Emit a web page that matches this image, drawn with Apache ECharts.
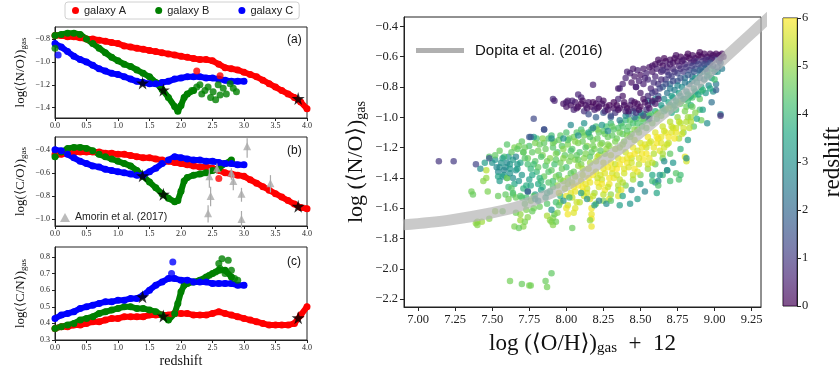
<!DOCTYPE html>
<html>
<head>
<meta charset="utf-8">
<script src="https://cdn.jsdelivr.net/npm/echarts@6/dist/echarts.min.js"></script>
<style>
html,body{margin:0;padding:0;background:#fff;}
#chart{width:840px;height:373px;}
</style>
</head>
<body>
<div id="chart"></div>
<script>
// ---------- redshift tracks of the three galaxies ----------
const zA = [0.0,0.1,0.2,0.3,0.4,0.5,0.6,0.7,0.8,0.9,1.0,1.1,1.2,1.3,1.4,1.5,1.6,1.7,1.8,1.9,2.0,2.1,2.2,2.3,2.4,2.5,2.6,2.7,2.8,2.9,3.0,3.1,3.2,3.3,3.4,3.5,3.6,3.7,3.8,3.9,4.0];
const noA = [-0.77,-0.77,-0.78,-0.78,-0.79,-0.80,-0.80,-0.81,-0.82,-0.83,-0.84,-0.86,-0.87,-0.88,-0.89,-0.90,-0.91,-0.92,-0.93,-0.94,-0.95,-0.96,-0.97,-0.98,-0.98,-0.99,-1.02,-1.05,-1.06,-1.07,-1.09,-1.11,-1.13,-1.16,-1.19,-1.22,-1.25,-1.28,-1.31,-1.35,-1.41];
const coA = [-0.44,-0.44,-0.43,-0.42,-0.42,-0.42,-0.42,-0.42,-0.43,-0.43,-0.44,-0.44,-0.45,-0.46,-0.47,-0.47,-0.48,-0.49,-0.50,-0.51,-0.52,-0.53,-0.54,-0.55,-0.55,-0.56,-0.58,-0.60,-0.61,-0.62,-0.63,-0.66,-0.69,-0.72,-0.75,-0.78,-0.81,-0.84,-0.87,-0.90,-0.91];
const cnA = [0.37,0.38,0.38,0.39,0.39,0.40,0.41,0.41,0.42,0.43,0.43,0.44,0.44,0.44,0.44,0.45,0.45,0.45,0.45,0.46,0.46,0.46,0.45,0.45,0.45,0.46,0.47,0.46,0.45,0.44,0.43,0.42,0.41,0.40,0.39,0.39,0.39,0.39,0.40,0.45,0.50];

const zB = [0.0,0.1,0.2,0.3,0.4,0.5,0.6,0.7,0.8,0.9,1.0,1.1,1.2,1.3,1.4,1.5,1.6,1.7,1.8,1.9,1.95,2.0,2.05,2.1,2.2,2.3,2.4,2.5,2.6,2.7,2.8];
const noB = [-0.77,-0.76,-0.75,-0.75,-0.76,-0.80,-0.84,-0.88,-0.92,-0.96,-0.99,-1.02,-1.04,-1.07,-1.10,-1.13,-1.18,-1.24,-1.31,-1.39,-1.43,-1.38,-1.31,-1.28,-1.25,null,null,null,null,null,null];
const coB = [-0.46,-0.42,-0.39,-0.38,-0.38,-0.39,-0.41,-0.44,-0.46,-0.48,-0.50,-0.52,-0.54,-0.58,-0.63,-0.68,-0.73,-0.78,-0.82,-0.85,-0.84,-0.76,-0.67,-0.64,-0.62,-0.61,-0.60,-0.58,-0.56,-0.52,-0.49];
const cnB = [0.37,0.38,0.39,0.40,0.42,0.43,0.44,0.46,0.47,0.48,0.49,0.50,0.50,0.49,0.49,0.48,0.47,0.45,0.42,0.46,0.52,0.59,0.63,0.64,0.65,0.66,0.68,0.70,0.72,0.72,0.68];

const zC = [0.0,0.1,0.2,0.3,0.4,0.5,0.6,0.7,0.8,0.9,1.0,1.1,1.2,1.3,1.4,1.5,1.6,1.7,1.8,1.9,2.0,2.1,2.2,2.3,2.4,2.5,2.6,2.7,2.8,2.9,3.0];
const noC = [-0.84,-0.87,-0.91,-0.95,-0.98,-1.00,-1.03,-1.06,-1.08,-1.10,-1.11,-1.13,-1.15,-1.17,-1.18,-1.19,-1.19,-1.18,-1.17,-1.15,-1.14,-1.13,-1.13,-1.13,-1.14,-1.14,-1.15,-1.16,-1.17,-1.17,-1.17];
const coC = [-0.40,-0.41,-0.44,-0.47,-0.50,-0.52,-0.54,-0.55,-0.57,-0.58,-0.59,-0.60,-0.61,-0.62,-0.62,-0.59,-0.56,-0.52,-0.49,-0.46,-0.47,-0.48,-0.49,-0.49,-0.50,-0.50,-0.51,-0.52,-0.52,-0.53,-0.53];
const cnC = [0.43,0.45,0.46,0.47,0.49,0.50,0.51,0.52,0.53,0.53,0.54,0.54,0.55,0.55,0.57,0.60,0.63,0.65,0.67,0.67,0.66,0.66,0.65,0.65,0.65,0.64,0.64,0.64,0.64,0.63,0.63];

// scattered snapshots off the main tracks: [redshift, value]
const looseA_no = [[2.25,-1.08],[2.62,-1.12]];
const looseA_co = [[2.6,-0.65]];
const looseB_no = [[0.0,-0.88],[2.17,-1.25],[2.25,-1.22],[2.30,-1.20],[2.33,-1.28],[2.38,-1.25],[2.43,-1.22],[2.51,-1.26],[2.59,-1.20],[2.62,-1.29],[2.67,-1.23],[2.72,-1.28],[2.78,-1.19],[2.83,-1.23],[2.88,-1.26],[2.47,-1.31],[2.55,-1.33]];
const looseB_cn = [[2.55,0.71],[2.60,0.76],[2.65,0.79],[2.62,0.73],[2.75,0.78],[2.70,0.70],[2.85,0.67],[2.90,0.66],[2.80,0.72],[2.45,0.69]];
const looseC_no = [[0.05,-0.94]];
const looseC_cn = [[1.87,0.77],[1.85,0.70]];

// marked snapshots (stars): galaxy A, B, C
const starZ  = [3.86, 1.72, 1.39];
const starNO = [-1.32, -1.245, -1.185];
const starCO = [-0.89, -0.785, -0.625];
const starCN = [0.434, 0.445, 0.56];

// Amorin et al. (2017) C/O measurements: redshift, value, lower, upper
const amorinZ  = [2.43, 2.47, 2.45, 2.57, 2.80, 2.83, 2.96, 2.96, 3.05, 3.42];
const amorinCO = [-0.95, -0.80, -0.63, -0.56, -0.60, -0.67, -0.78, -1.00, -0.37, -0.69];
const amorinLo = [-1.03, -0.89, -0.73, -0.61, -0.66, -0.75, -0.85, -1.08, -0.47, -0.77];
const amorinHi = [-0.88, -0.72, -0.56, -0.52, -0.56, -0.62, -0.73, -0.93, -0.30, -0.62];

// Dopita et al. (2016) relation
const dopOH = [6.9, 7.2, 7.5, 7.7, 7.9, 8.0, 8.1, 8.2, 8.3, 8.4, 8.5, 8.6, 8.7, 8.8, 8.9, 9.0, 9.1, 9.2, 9.3, 9.4];
const dopNO = [-1.71, -1.68, -1.63, -1.58, -1.50, -1.45, -1.39, -1.32, -1.25, -1.18, -1.10, -1.02, -0.94, -0.85, -0.76, -0.67, -0.58, -0.49, -0.40, -0.31];

// ---------- gas particles: [log(O/H)+12, log(N/O), redshift] ----------
const cloudGreen = [
[7.55,-1.22,4.6],[7.56,-1.30,3.0],[7.54,-1.36,2.8],[7.55,-1.42,3.2],
[7.60,-1.18,4.4],[7.61,-1.26,3.1],[7.59,-1.33,2.9],[7.60,-1.40,3.4],[7.61,-1.46,4.0],
[7.65,-1.20,4.8],[7.64,-1.28,3.3],[7.66,-1.35,3.0],[7.65,-1.44,3.6],[7.64,-1.50,4.2],
[7.70,-1.16,4.5],[7.71,-1.23,4.2],[7.69,-1.30,3.5],[7.70,-1.38,3.2],[7.71,-1.47,3.8],[7.70,-1.53,4.4],
[7.75,-1.19,4.3],[7.74,-1.27,4.6],[7.76,-1.34,3.9],[7.75,-1.41,3.4],[7.74,-1.49,3.1],[7.76,-1.55,4.7],
[7.80,-1.14,4.2],[7.81,-1.22,4.7],[7.79,-1.29,4.4],[7.80,-1.36,4.0],[7.81,-1.44,3.6],[7.79,-1.51,3.3],
[7.85,-1.17,4.5],[7.84,-1.25,4.8],[7.86,-1.32,4.3],[7.85,-1.39,4.6],[7.84,-1.46,3.9],[7.86,-1.53,3.5],
[7.90,-1.12,4.1],[7.91,-1.20,4.4],[7.89,-1.27,4.9],[7.90,-1.35,4.5],[7.91,-1.42,4.2],[7.89,-1.49,3.7],
[7.95,-1.15,4.6],[7.94,-1.23,4.3],[7.96,-1.30,4.7],[7.95,-1.38,4.4],[7.94,-1.45,5.0],[7.96,-1.52,3.8],
[8.00,-1.10,4.3],[8.01,-1.18,4.8],[7.99,-1.25,4.5],[8.00,-1.33,4.2],[8.01,-1.40,4.9],[7.99,-1.47,5.3],
[8.05,-1.13,4.7],[8.04,-1.21,4.4],[8.06,-1.28,4.9],[8.05,-1.36,4.6],[8.04,-1.43,5.2],
[8.10,-1.08,4.2],[8.11,-1.16,4.6],[8.09,-1.23,4.3],[8.10,-1.31,4.8],[8.11,-1.38,5.4],
[8.15,-1.11,4.5],[8.14,-1.19,4.9],[8.16,-1.26,4.4],[8.15,-1.34,5.5],
[8.20,-1.06,4.1],[8.21,-1.14,4.6],[8.19,-1.21,4.8],[8.20,-1.29,5.3],
[8.25,-1.09,4.4],[8.24,-1.17,4.7],[8.26,-1.24,5.0],[8.25,-1.30,5.6],
[8.30,-1.04,4.0],[8.31,-1.12,4.5],[8.29,-1.19,4.9],[8.30,-1.25,5.4],
[8.35,-1.07,4.3],[8.34,-1.14,4.6],[8.36,-1.20,5.1],
[8.40,-1.02,3.9],[8.41,-1.09,4.4],[8.39,-1.16,4.8],
[8.45,-1.04,4.2],[8.44,-1.11,4.7],[8.46,-1.15,5.2],
[8.50,-0.99,3.8],[8.51,-1.06,4.5],[8.49,-1.10,4.9],
[8.55,-1.02,4.1],[8.54,-1.07,4.6],
[8.60,-0.96,3.7],[8.61,-1.01,4.4],
[8.65,-0.94,4.0],[8.64,-0.99,4.7],
[8.70,-0.92,4.2],[8.71,-0.97,3.6],
[8.75,-0.90,4.4],[8.74,-0.95,4.0],
[8.80,-0.88,4.1],[8.81,-0.93,4.6],
[8.85,-0.87,4.3],[8.84,-0.92,3.8],
[8.90,-0.88,4.5],[8.91,-0.83,4.0],
[7.58,-1.26,4.2],[7.57,-1.39,3.0],[7.63,-1.23,4.5],[7.62,-1.31,3.2],[7.63,-1.47,4.4],[7.68,-1.19,4.7],[7.67,-1.34,3.4],[7.68,-1.42,3.1],
[7.72,-1.27,4.4],[7.73,-1.45,3.7],[7.77,-1.23,4.5],[7.78,-1.31,4.1],[7.77,-1.38,3.6],[7.78,-1.52,4.4],[7.82,-1.18,4.6],[7.83,-1.26,4.3],
[7.82,-1.40,3.8],[7.83,-1.48,3.4],[7.88,-1.14,4.3],[7.87,-1.29,4.7],[7.88,-1.43,4.4],[7.87,-1.50,3.6],[7.92,-1.16,4.5],[7.93,-1.24,4.8],
[7.92,-1.31,4.2],[7.93,-1.39,4.7],[7.97,-1.19,4.4],[7.98,-1.27,4.9],[7.97,-1.34,4.6],[7.98,-1.42,5.1],[8.02,-1.14,4.6],[8.03,-1.22,4.3],
[8.02,-1.29,4.8],[8.03,-1.37,4.5],[8.07,-1.10,4.4],[8.08,-1.17,4.8],[8.07,-1.25,4.5],[8.08,-1.32,5.0],[8.12,-1.12,4.7],[8.13,-1.20,4.4],
[8.12,-1.27,4.9],[8.17,-1.08,4.3],[8.18,-1.15,4.7],[8.17,-1.23,4.5],[8.22,-1.10,4.5],[8.23,-1.18,4.9],[8.22,-1.25,5.2],[8.27,-1.06,4.2],
[8.28,-1.13,4.6],[8.27,-1.21,5.0],[8.32,-1.08,4.4],[8.33,-1.16,4.8],[8.37,-1.04,4.1],[8.38,-1.11,4.5],[8.38,-1.18,5.0],[8.42,-1.06,4.4],
[8.43,-1.13,4.9],[8.47,-1.01,4.0],[8.48,-1.08,4.6],[8.52,-1.03,4.3],[8.53,-0.98,3.9],[8.57,-0.98,4.2],[8.58,-1.04,4.7],[8.62,-0.97,4.5],
[8.67,-0.95,4.3],[8.72,-0.93,4.1],[8.77,-0.91,4.5],[8.82,-0.89,4.2],[8.87,-0.85,4.4],
[7.72,-1.20,4.6],[7.74,-1.31,4.2],[7.76,-1.45,3.5],[7.79,-1.17,4.8],[7.81,-1.33,4.5],[7.83,-1.42,4.0],[7.86,-1.21,4.6],[7.88,-1.36,4.4],
[7.84,-1.14,4.9],[7.91,-1.17,4.7],[7.93,-1.28,4.5],[7.91,-1.46,4.3],[7.96,-1.12,4.5],[7.98,-1.21,4.9],[7.96,-1.41,4.8],[8.01,-1.15,4.4],
[8.03,-1.26,4.7],[8.01,-1.44,5.1],[8.06,-1.16,4.9],[8.08,-1.28,4.6],[8.06,-1.39,5.0],[8.11,-1.10,4.6],[8.13,-1.24,4.8],[8.11,-1.34,5.2],
[8.16,-1.13,4.3],[8.18,-1.19,4.7],[8.16,-1.30,5.1],[8.21,-1.08,4.8],[8.23,-1.22,4.5],[8.21,-1.26,5.3],[8.26,-1.11,4.6],[8.28,-1.18,4.9],
[8.31,-1.06,4.5],[8.33,-1.21,5.2],[8.36,-1.10,4.7],[8.38,-1.06,4.3],[8.41,-1.12,4.8],[8.43,-1.02,4.4],[8.46,-1.08,4.9],[8.48,-1.04,4.3],
[8.51,-1.01,4.6],[8.56,-0.99,4.4],[8.61,-0.98,4.8],[8.66,-0.96,4.1],[8.69,-0.94,4.6],[8.73,-0.92,4.0],[8.78,-0.89,4.6],[8.83,-0.87,4.0],
[7.52,-1.28,3.1],[7.55,-1.33,2.9],[7.57,-1.27,3.3],[7.60,-1.30,2.8],[7.62,-1.34,3.1],[7.58,-1.38,3.4],[7.64,-1.40,2.9],[7.67,-1.31,3.2],
[7.66,-1.26,2.7],[7.54,-1.39,3.5]
];

const cloudYellow = [
[7.95,-1.50,5.6],[7.96,-1.56,5.2],[8.00,-1.52,5.8],[8.01,-1.58,5.5],
[8.05,-1.46,5.9],[8.04,-1.53,5.4],[8.06,-1.60,5.7],
[8.10,-1.42,5.7],[8.11,-1.49,6.0],[8.09,-1.56,5.3],
[8.15,-1.40,5.9],[8.14,-1.47,5.5],[8.16,-1.54,5.8],
[8.20,-1.36,5.6],[8.21,-1.43,5.9],[8.19,-1.50,5.2],[8.20,-1.57,4.7],
[8.25,-1.34,5.8],[8.24,-1.41,5.5],[8.26,-1.48,5.9],[8.25,-1.55,4.9],
[8.30,-1.30,5.9],[8.31,-1.37,5.6],[8.29,-1.44,5.8],[8.30,-1.51,5.0],
[8.35,-1.27,5.7],[8.34,-1.34,6.0],[8.36,-1.41,5.4],[8.35,-1.48,5.1],
[8.40,-1.23,5.5],[8.41,-1.30,5.9],[8.39,-1.37,5.6],[8.40,-1.45,4.8],
[8.45,-1.20,5.8],[8.44,-1.27,5.5],[8.46,-1.34,5.9],[8.45,-1.41,5.2],
[8.50,-1.17,5.6],[8.51,-1.24,5.9],[8.49,-1.31,5.4],[8.50,-1.38,4.9],
[8.55,-1.13,5.9],[8.54,-1.20,5.5],[8.56,-1.27,5.8],[8.55,-1.34,5.1],
[8.60,-1.10,5.7],[8.61,-1.17,5.9],[8.59,-1.24,5.3],[8.60,-1.31,4.6],
[8.65,-1.06,5.5],[8.64,-1.13,5.8],[8.66,-1.20,5.6],[8.65,-1.27,4.8],
[8.70,-1.03,5.3],[8.71,-1.10,5.7],[8.69,-1.17,5.4],[8.70,-1.24,4.5],
[8.75,-1.00,5.0],[8.74,-1.07,5.5],[8.76,-1.14,5.2],
[8.80,-0.96,4.8],[8.81,-1.03,5.3],[8.79,-1.10,4.9],
[8.85,-0.93,4.6],[8.84,-1.00,5.1],[8.86,-1.06,4.4],
[8.90,-0.95,4.3],[8.91,-1.02,4.7],
[8.03,-1.50,5.7],[8.07,-1.56,5.5],[8.08,-1.45,5.9],[8.12,-1.52,5.6],[8.13,-1.44,5.8],[8.18,-1.38,5.9],[8.18,-1.52,5.4],[8.22,-1.46,5.7],
[8.23,-1.38,5.6],[8.28,-1.33,5.9],[8.28,-1.46,5.5],[8.32,-1.40,5.8],[8.33,-1.31,5.5],[8.38,-1.28,5.9],[8.38,-1.43,5.3],[8.42,-1.33,5.7],
[8.43,-1.25,5.9],[8.48,-1.22,5.6],[8.48,-1.36,5.8],[8.52,-1.28,5.9],[8.53,-1.18,5.7],[8.57,-1.16,5.6],[8.58,-1.30,5.4],[8.62,-1.14,5.9],
[8.63,-1.22,5.7],[8.67,-1.10,5.8],[8.68,-1.18,5.5],[8.72,-1.07,5.6],[8.73,-1.14,5.9],[8.77,-1.04,5.3],[8.78,-1.11,5.6],[8.82,-1.00,5.1],
[8.83,-1.07,5.4],[8.87,-0.97,4.9],
[8.06,-1.49,5.8],[8.11,-1.46,5.9],[8.14,-1.50,5.6],[8.16,-1.43,5.8],[8.21,-1.40,5.5],[8.24,-1.44,5.9],[8.26,-1.37,5.7],[8.29,-1.40,5.9],
[8.31,-1.34,5.8],[8.34,-1.38,5.6],[8.36,-1.31,5.9],[8.39,-1.34,5.7],[8.41,-1.27,5.8],[8.44,-1.30,5.6],[8.46,-1.24,5.9],[8.49,-1.27,5.7],
[8.51,-1.20,5.8],[8.54,-1.24,5.9],[8.56,-1.17,5.6],[8.59,-1.20,5.8],[8.61,-1.13,5.9],[8.64,-1.17,5.7],[8.66,-1.09,5.6],[8.69,-1.13,5.9],
[8.71,-1.06,5.5],[8.74,-1.10,5.8],[8.76,-1.03,5.4],[8.79,-1.07,5.6],[8.84,-1.03,5.3],[8.45,-1.38,5.4],[8.55,-1.31,5.5],[8.65,-1.24,5.2],
[8.35,-1.45,5.3],[8.25,-1.51,5.4],
[8.17,-1.60,5.9],[8.17,-1.64,5.8],[8.17,-1.67,5.9],[8.17,-1.72,5.8],[8.29,-1.54,5.6],[8.35,-1.52,5.7],[8.37,-1.48,5.8],[8.81,-1.29,5.6],
[8.80,-1.26,5.7],[8.00,-1.60,5.8],[8.01,-1.64,5.9],[8.05,-1.63,5.7]
];

const cloudEdge = [
[8.14,-1.54,3.0],[8.19,-1.58,3.2],[8.27,-1.57,2.9],[8.36,-1.58,3.4],[8.43,-1.57,3.1],[8.48,-1.54,3.3],[8.53,-1.49,2.7],[8.61,-1.50,3.5],
[8.60,-1.43,3.0],[8.62,-1.42,2.8],[8.65,-1.38,4.0],[8.70,-1.42,4.2],[8.76,-1.41,4.3],[8.77,-1.38,4.1],[8.68,-1.35,3.9],[8.72,-1.30,3.1],
[8.66,-1.29,2.9],[8.58,-1.38,3.6],[8.50,-1.44,3.2],[8.44,-1.48,2.8],[8.38,-1.52,3.5],[8.30,-1.55,4.4],[8.22,-1.55,2.6],[8.10,-1.50,3.4],
[8.02,-1.53,4.0],[7.98,-1.55,3.0],[7.93,-1.56,4.2],[8.74,-1.37,4.4],[8.58,-1.42,4.1],[8.62,-1.45,4.3],
[7.36,-1.49,4.7],[7.37,-1.51,4.6],[7.39,-1.70,5.0],[7.43,-1.69,5.1],[7.48,-1.67,4.9],[7.47,-1.49,4.8],[7.54,-1.52,4.6],[7.59,-1.51,4.5],
[7.64,-1.51,4.4],[7.66,-1.53,4.6],[7.52,-1.62,5.0],[7.57,-1.62,4.7],[7.65,-1.72,4.8],[7.71,-1.72,4.9],[7.69,-1.68,5.1],[7.69,-1.64,5.0],
[7.73,-1.61,4.8],[7.72,-1.57,4.5],[7.78,-1.60,4.7],[7.82,-1.59,4.6],[7.87,-1.65,5.2],[7.89,-1.68,5.0],[7.91,-1.665,4.9],[8.04,-1.73,4.6],
[8.16,-1.68,5.0],[7.46,-1.35,5.3],[7.46,-1.40,5.0],[7.44,-1.42,4.9],[7.60,-1.40,4.8],[7.61,-1.54,4.7],[7.69,-1.52,4.3],[7.73,-1.53,4.2],
[7.79,-1.54,3.2],[7.81,-1.55,3.0],[7.87,-1.57,4.4],[7.77,-1.62,4.6],[7.66,-1.63,4.7],[7.68,-1.73,4.6],[7.72,-1.69,4.8],[7.74,-1.66,4.9],
[7.40,-1.69,5.0],[7.40,-1.71,4.9],[7.90,-1.69,4.8],[7.91,-1.71,4.9],[7.93,-1.69,4.7],[7.92,-1.64,4.6],[7.94,-1.63,4.9],[7.90,-1.61,3.0],
[7.95,-1.58,4.4],[7.48,-1.26,4.4],[7.52,-1.25,4.5],[7.50,-1.30,3.0],[7.53,-1.33,2.8],[7.58,-1.35,2.7],[7.62,-1.37,3.0],[7.45,-1.30,3.3],
[7.67,-1.21,4.5],[7.71,-1.23,4.6],[7.42,-1.34,2.9],
[7.62,-2.08,4.7],[7.70,-2.10,4.6],[7.75,-2.11,4.8],[7.76,-2.11,4.7],[7.86,-2.08,4.6],[7.87,-2.12,4.7],[7.90,-2.03,4.5]
];

const cloudMid = [
[8.65,-0.80,1.8],[8.70,-0.78,2.0],[8.75,-0.76,1.6],[8.80,-0.74,2.2],[8.85,-0.73,1.9],[8.90,-0.71,2.4],[8.95,-0.70,2.1],[9.00,-0.70,2.6],
[8.68,-0.84,2.3],[8.73,-0.82,2.6],[8.78,-0.80,2.9],[8.83,-0.78,2.5],[8.88,-0.77,3.0],[8.93,-0.75,2.7],[8.98,-0.74,3.1],[8.62,-0.86,1.5],
[8.66,-0.88,2.8],[8.71,-0.86,3.2],[8.76,-0.84,3.4],[8.81,-0.83,3.0],[8.86,-0.81,3.5],[8.91,-0.80,3.3],[8.96,-0.79,2.8],[9.01,-0.78,2.4],
[8.58,-0.90,2.0],[8.64,-0.92,3.1],[8.69,-0.90,3.6],[8.74,-0.89,3.8],[8.79,-0.88,3.5],[8.84,-0.86,3.9],[8.89,-0.85,3.6],[8.94,-0.84,3.2],
[8.99,-0.83,2.9],[9.01,-0.82,1.8],[8.98,-0.90,2.2],[9.04,-0.98,2.5],[8.92,-0.95,3.4],[8.95,-1.04,2.9],[8.88,-1.01,3.6],[8.82,-1.15,3.3],
[8.77,-1.21,3.8],[8.81,-1.27,3.0],[8.68,-1.35,2.8],[8.63,-1.38,3.2],[8.52,-0.99,1.1],[8.56,-1.01,1.5],
[9.04,-0.64,2.0],[9.02,-0.70,3.0],[9.05,-0.68,2.5],[8.98,-0.68,3.5],[9.00,-0.75,4.2],[8.96,-0.72,3.8],[8.92,-0.70,2.9],[8.87,-0.74,3.3],
[8.12,-1.04,3.0],[8.18,-1.07,2.6],[8.24,-1.05,3.2],[8.28,-1.09,2.8],[8.15,-1.10,3.4],[8.08,-1.12,2.9],[8.25,-0.97,1.5],[8.30,-1.00,2.0],
[8.20,-1.00,1.8],[8.36,-1.02,2.5],[8.03,-1.05,2.8],[7.98,-1.14,3.0],[7.90,-1.14,2.9],[7.85,-1.08,1.6],[7.78,-1.13,3.2],[7.76,-1.13,1.9],
[7.74,-1.49,1.5],[8.46,-1.00,2.2],[8.42,-0.98,1.7],
[8.70,-0.81,2.4],[8.75,-0.79,2.7],[8.80,-0.77,2.4],[8.85,-0.76,2.8],[8.90,-0.74,2.5],[8.95,-0.73,3.0],[8.72,-0.87,3.4],[8.77,-0.86,3.2],
[8.82,-0.85,3.7],[8.87,-0.83,3.4],[8.92,-0.82,3.9],[8.97,-0.81,3.6],[8.60,-0.88,2.6],[8.55,-0.89,2.2],[8.50,-0.97,2.5],[8.45,-0.96,1.9],
[8.40,-0.99,2.8]
];

const cloudBranch = [
[7.98,-0.91,0.3],[8.01,-0.89,0.4],[8.03,-0.92,0.2],[8.06,-0.90,0.3],[8.08,-0.93,0.2],[8.10,-0.91,0.1],[8.13,-0.92,0.2],[8.15,-0.90,0.3],
[8.17,-0.93,0.1],[8.20,-0.91,0.2],[8.22,-0.93,0.1],[8.24,-0.91,0.3],[8.27,-0.93,0.2],[8.29,-0.92,0.1],[8.32,-0.94,0.2],[8.34,-0.92,0.1],
[8.36,-0.94,0.3],[8.39,-0.92,0.2],[8.41,-0.94,0.1],[8.43,-0.92,0.2],[8.46,-0.94,0.3],[8.48,-0.91,0.2],[8.50,-0.93,0.1],[8.53,-0.90,0.2],
[8.55,-0.92,0.3],[8.58,-0.89,0.2],[8.60,-0.91,0.4],[8.62,-0.88,0.3],
[8.05,-0.95,0.6],[8.12,-0.96,0.8],[8.19,-0.95,0.5],[8.26,-0.96,0.7],[8.33,-0.97,0.9],[8.40,-0.96,0.6],[8.47,-0.97,1.0],[8.54,-0.95,0.8],
[8.15,-0.98,1.4],[8.30,-0.99,1.2],[8.10,-0.87,0.5],[8.22,-0.88,0.4],[8.44,-0.89,0.5],[8.35,-0.88,0.6],
[8.00,-0.93,0.3],[8.07,-0.94,0.2],[8.14,-0.94,0.3],[8.21,-0.94,0.2],[8.28,-0.95,0.3],[8.35,-0.95,0.2],[8.42,-0.96,0.3],[8.49,-0.95,0.2],
[8.56,-0.94,0.3],[8.11,-0.89,0.2],[8.18,-0.90,0.1],[8.25,-0.89,0.2],[8.32,-0.90,0.1],[8.39,-0.90,0.2],[8.46,-0.90,0.1],[8.52,-0.88,0.2]
];

const cloudRidge = [
[8.40,-0.74,0.6],[8.43,-0.71,0.5],[8.46,-0.73,0.4],[8.48,-0.69,0.5],[8.50,-0.72,0.3],[8.52,-0.68,0.4],[8.54,-0.71,0.6],[8.56,-0.67,0.3],
[8.58,-0.70,0.4],[8.60,-0.65,0.2],[8.61,-0.68,0.5],[8.63,-0.64,0.3],[8.65,-0.66,0.2],[8.67,-0.63,0.3],[8.68,-0.67,0.5],[8.70,-0.62,0.2],
[8.72,-0.64,0.3],[8.73,-0.61,0.1],[8.75,-0.63,0.2],[8.77,-0.60,0.1],[8.79,-0.62,0.3],[8.81,-0.60,0.2],[8.83,-0.61,0.1],[8.85,-0.59,0.2],
[8.87,-0.61,0.3],[8.89,-0.59,0.1],[8.91,-0.60,0.2],[8.93,-0.58,0.1],[8.95,-0.60,0.3],[8.97,-0.58,0.1],[8.99,-0.59,0.2],[9.01,-0.58,0.1],
[9.03,-0.59,0.2],[9.05,-0.58,0.1],[9.06,-0.60,0.3],
[8.55,-0.75,0.7],[8.60,-0.73,0.6],[8.64,-0.70,0.5],[8.68,-0.70,0.7],[8.72,-0.68,0.6],[8.76,-0.66,0.5],[8.80,-0.65,0.7],[8.84,-0.64,0.6],
[8.88,-0.63,0.8],[8.92,-0.63,0.9],[8.96,-0.62,1.0],[9.00,-0.62,1.1],[9.03,-0.63,1.3],
[8.62,-0.78,0.9],[8.67,-0.75,1.0],[8.71,-0.73,1.1],[8.75,-0.71,1.2],[8.79,-0.70,1.0],[8.83,-0.69,1.3],[8.87,-0.68,1.4],[8.91,-0.67,1.5],
[8.95,-0.66,1.6],[8.99,-0.66,1.7],[9.02,-0.67,1.8],
[8.38,-0.78,0.5],[8.35,-0.81,0.4],[8.47,-0.80,0.6],[8.44,-0.77,0.3],[8.52,-0.78,0.5],[8.57,-0.81,0.6],[8.50,-0.84,0.4],[8.55,-0.86,0.7],
[8.60,-0.83,0.8],[8.38,-0.86,0.3],[8.41,-0.70,0.5],[8.45,-0.68,0.4],[8.36,-0.81,0.6],[8.47,-0.80,0.5],
[8.58,-0.66,0.3],[8.62,-0.62,0.2],[8.66,-0.61,0.1],[8.70,-0.65,0.4],[8.74,-0.59,0.2],[8.78,-0.63,0.4],[8.82,-0.58,0.1],[8.86,-0.63,0.5],
[8.90,-0.57,0.1],[8.94,-0.62,0.6],[8.98,-0.61,0.4],[9.04,-0.61,0.5],[8.65,-0.69,0.8],[8.69,-0.72,1.0],[8.73,-0.70,0.9],[8.77,-0.68,0.8],
[8.81,-0.67,0.9],[8.85,-0.66,1.1],[8.89,-0.65,1.2],[8.93,-0.65,1.3],[8.97,-0.64,1.4],[8.59,-0.77,0.8],[8.64,-0.75,0.7],[8.53,-0.74,0.6],
[8.49,-0.76,0.5],[8.58,-0.84,1.0],[8.63,-0.81,1.2],[8.67,-0.78,1.4],[8.72,-0.76,1.3],[8.77,-0.74,1.5],[8.82,-0.72,1.7],[8.86,-0.70,1.6],
[8.90,-0.69,1.8],[8.94,-0.68,2.0]
];

const cloudStray = [
[7.14,-1.29,0.9],[7.24,-1.29,1.0],[7.39,-1.31,1.2],[7.48,-1.27,1.5],[7.78,-1.01,1.3],[7.85,-1.08,1.4],[7.75,-1.13,1.6],[9.04,-0.99,0.8],
[7.91,-0.88,0.7],[7.92,-0.89,0.5],[8.00,-0.90,0.4],[8.04,-0.89,0.5],[8.08,-0.85,0.6],[8.18,-0.785,0.5]
];

// ---------- helpers ----------
function pairs(xs, ys) { return xs.map((x, i) => [x, ys[i]]); }
const serif = 'Liberation Serif, DejaVu Serif, serif';
const sans = 'Liberation Sans, DejaVu Sans, sans-serif';
const minus = v => String(v).replace('-', '\u2212');
const viridis = ['#440154','#482475','#414487','#355f8d','#2a788e','#21918c','#22a884','#44bf70','#7ad151','#bddf26','#fde725'];
const starPath = 'path://M50,0 L61,35 L98,35 L68,57 L79,91 L50,70 L21,91 L32,57 L2,35 L39,35 Z';
const galaxyColor = {'galaxy A': '#ff0000', 'galaxy B': '#008000', 'galaxy C': '#0000ff'};

const grids = [
  {left: 55, top: 27, width: 252, height: 91},
  {left: 55, top: 137, width: 252, height: 89},
  {left: 55, top: 247, width: 252, height: 93},
  {left: 404, top: 17, width: 357, height: 290},
  {left: 783, top: 18, width: 14, height: 288}
].map(g => Object.assign({show: true, borderColor: '#222', borderWidth: 1, backgroundColor: 'transparent', outerBoundsMode: 'none'}, g));

function smallX(idx, extra) {
  return Object.assign({
    type: 'value', gridIndex: idx, min: 0, max: 4, interval: 0.5,
    axisLine: {show: true, lineStyle: {color: '#222', width: 1}},
    axisTick: {show: true, inside: false, length: 3, lineStyle: {color: '#222'}},
    axisLabel: {fontFamily: serif, fontSize: 8, color: '#222', margin: 4, formatter: v => v.toFixed(1)},
    splitLine: {show: false}
  }, extra || {});
}
function smallY(idx, min, max, ticks, label) {
  return {
    type: 'value', gridIndex: idx, min: min, max: max,
    axisLine: {show: true, lineStyle: {color: '#222', width: 1}},
    axisTick: {show: true, inside: false, length: 3, customValues: ticks, lineStyle: {color: '#222'}},
    axisLabel: {fontFamily: serif, fontSize: 8, color: '#222', margin: 5, customValues: ticks, formatter: v => minus(v.toFixed(1))},
    splitLine: {show: false},
    name: '{t|' + label + '}{s|gas}', nameLocation: 'middle', nameGap: 27, nameRotate: 90,
    nameTextStyle: {color: '#111', rich: {
      t: {fontFamily: serif, fontSize: 13, color: '#111'},
      s: {fontFamily: serif, fontSize: 9, color: '#111', padding: [6, 0, 0, 0]}
    }}
  };
}

const xTicksR = [7, 7.25, 7.5, 7.75, 8, 8.25, 8.5, 8.75, 9, 9.25];
const yTicksR = [-2.2, -2.0, -1.8, -1.6, -1.4, -1.2, -1.0, -0.8, -0.6, -0.4];

const xAxes = [
  smallX(0), smallX(1),
  smallX(2, {name: 'redshift', nameLocation: 'middle', nameGap: 14, nameTextStyle: {fontFamily: serif, fontSize: 14, color: '#111'}}),
  {
    type: 'value', gridIndex: 3, min: 6.905, max: 9.313,
    axisLine: {show: true, lineStyle: {color: '#222'}},
    axisTick: {show: true, length: 4, customValues: xTicksR, lineStyle: {color: '#222'}},
    axisLabel: {fontFamily: serif, fontSize: 12.5, color: '#222', margin: 6, customValues: xTicksR, formatter: v => v.toFixed(2)},
    splitLine: {show: false},
    name: '{t|log (\u27E8O/H\u27E9)}{s|gas}{t|  +  12}', nameLocation: 'middle', nameGap: 24,
    nameTextStyle: {rich: {
      t: {fontFamily: serif, fontSize: 23, color: '#111'},
      s: {fontFamily: serif, fontSize: 15, color: '#111', padding: [10, 0, 0, 0]}
    }}
  },
  {type: 'category', gridIndex: 4, data: ['bar'], show: false}
];

const yAxes = [
  smallY(0, -1.49, -0.695, [-1.4, -1.2, -1.0, -0.8], 'log(\u27E8N/O\u27E9)'),
  smallY(1, -1.06, -0.29, [-1.0, -0.8, -0.6, -0.4], 'log(\u27E8C/O\u27E9)'),
  smallY(2, 0.3, 0.86, [0.3, 0.4, 0.5, 0.6, 0.7, 0.8], 'log(\u27E8C/N\u27E9)'),
  {
    type: 'value', gridIndex: 3, min: -2.252, max: -0.338,
    axisLine: {show: true, lineStyle: {color: '#222'}},
    axisTick: {show: true, length: 4, customValues: yTicksR, lineStyle: {color: '#222'}},
    axisLabel: {fontFamily: serif, fontSize: 12.5, color: '#222', margin: 6, customValues: yTicksR, formatter: v => minus(v.toFixed(1))},
    splitLine: {show: false},
    name: '{t|log (\u27E8N/O\u27E9)}{s|gas}', nameLocation: 'middle', nameGap: 36, nameRotate: 90,
    nameTextStyle: {rich: {
      t: {fontFamily: serif, fontSize: 22, color: '#111'},
      s: {fontFamily: serif, fontSize: 14, color: '#111', padding: [10, 0, 0, 0]}
    }}
  },
  {
    type: 'value', gridIndex: 4, min: 0, max: 6, interval: 1, position: 'right',
    axisLine: {show: true, lineStyle: {color: '#222'}},
    axisTick: {show: true, length: 4, lineStyle: {color: '#222'}},
    axisLabel: {fontFamily: serif, fontSize: 12.5, color: '#222', margin: 5},
    splitLine: {show: false},
    name: 'redshift', nameLocation: 'middle', nameGap: 24, nameRotate: 90,
    nameTextStyle: {fontFamily: serif, fontSize: 23, color: '#111'}
  }
];

// ---------- series ----------
const series = [];
function track(name, panel, zs, vs) {
  series.push({
    type: 'line', name: name, xAxisIndex: panel, yAxisIndex: panel,
    data: pairs(zs, vs), symbol: 'circle', symbolSize: 7, showSymbol: true,
    connectNulls: false, lineStyle: {width: 6, color: galaxyColor[name], cap: 'round', join: 'round'},
    itemStyle: {color: galaxyColor[name]}, emphasis: {disabled: true}, z: 2
  });
}
function loose(name, panel, pts) {
  series.push({
    type: 'scatter', name: name, xAxisIndex: panel, yAxisIndex: panel,
    data: pts, symbol: 'circle', symbolSize: 7, itemStyle: {color: galaxyColor[name]}, z: 2
  });
}
const panelValues = [
  {A: noA, B: noB, C: noC},
  {A: coA, B: coB, C: coC},
  {A: cnA, B: cnB, C: cnC}
];
panelValues.forEach((p, i) => {
  track('galaxy A', i, zA, p.A);
  track('galaxy B', i, zB, p.B);
  track('galaxy C', i, zC, p.C);
});
loose('galaxy A', 0, looseA_no);
loose('galaxy A', 1, looseA_co);
loose('galaxy B', 0, looseB_no);
loose('galaxy B', 2, looseB_cn);
loose('galaxy C', 0, looseC_no);
loose('galaxy C', 2, looseC_cn);

[starNO, starCO, starCN].forEach((vals, i) => {
  series.push({
    type: 'scatter', name: 'snapshot', xAxisIndex: i, yAxisIndex: i,
    data: pairs(starZ, vals), symbol: starPath, symbolSize: 13,
    itemStyle: {color: '#000'}, z: 5
  });
});

// Amorin et al. markers and their error bars in panel (b)
series.push({
  type: 'scatter', name: 'Amorin et al. (2017)', xAxisIndex: 1, yAxisIndex: 1,
  data: pairs(amorinZ, amorinCO), symbol: 'triangle', symbolSize: 8,
  itemStyle: {color: '#aaaaaa'}, z: 3
});
series.push({
  type: 'custom', name: 'Amorin error bars', xAxisIndex: 1, yAxisIndex: 1,
  data: amorinZ.map((z, i) => [z, amorinLo[i], amorinHi[i]]),
  renderItem: (params, api) => {
    const p0 = api.coord([api.value(0), api.value(1)]);
    const p1 = api.coord([api.value(0), api.value(2)]);
    return {type: 'line', shape: {x1: p0[0], y1: p0[1], x2: p1[0], y2: p1[1]}, style: {stroke: '#aaaaaa', lineWidth: 1.2}};
  },
  z: 3
});

// gas particle cloud coloured by redshift
const cloudIndex = series.length;
series.push({
  type: 'scatter', name: 'particles', xAxisIndex: 3, yAxisIndex: 3,
  data: [].concat(cloudGreen, cloudYellow, cloudEdge, cloudMid, cloudBranch, cloudRidge, cloudStray),
  symbol: 'circle', symbolSize: 6.5, itemStyle: {opacity: 0.7}, z: 2
});
series.push({
  type: 'line', name: 'Dopita et al. (2016)', xAxisIndex: 3, yAxisIndex: 3,
  data: pairs(dopOH, dopNO), symbol: 'none', smooth: 0.3,
  lineStyle: {width: 11, color: 'rgba(180,180,180,0.7)'},
  itemStyle: {color: '#b0b0b0'}, z: 4
});

// colour bar
series.push({
  type: 'bar', name: 'colorbar', xAxisIndex: 4, yAxisIndex: 4,
  data: [6], barWidth: '100%',
  itemStyle: {opacity: 0.68, color: new echarts.graphic.LinearGradient(0, 0, 0, 1,
    viridis.slice().reverse().map((c, i) => ({offset: i / 10, color: c})))},
  silent: true, z: 1
});

const option = {
  animation: false,
  backgroundColor: '#ffffff',
  grid: grids,
  xAxis: xAxes,
  yAxis: yAxes,
  visualMap: {
    type: 'continuous', show: false, min: 0, max: 6, dimension: 2,
    seriesIndex: cloudIndex, inRange: {color: viridis}
  },
  legend: [
    {
      data: ['galaxy A', 'galaxy B', 'galaxy C'], left: 65, top: 2,
      icon: 'circle', itemWidth: 7, itemHeight: 7, itemGap: 29,
      padding: [3, 6, 3, 7], borderColor: '#d0d0d0', borderWidth: 1, borderRadius: 3,
      textStyle: {fontFamily: sans, fontSize: 11, color: '#222'}
    },
    {
      data: [{name: 'Amorin et al. (2017)', icon: 'triangle', itemStyle: {color: '#aaaaaa'}}], left: 60, top: 212,
      itemWidth: 10, itemHeight: 9, padding: 0,
      textStyle: {fontFamily: sans, fontSize: 10.5, color: '#222'}
    },
    {
      data: [{name: 'Dopita et al. (2016)', icon: 'rect', itemStyle: {color: '#b0b0b0'}}],
      left: 416, top: 43, itemWidth: 48, itemHeight: 5, padding: 0,
      textStyle: {fontFamily: sans, fontSize: 15, color: '#111', padding: [0, 0, 0, 6]}
    }
  ],
  graphic: [
    {type: 'text', left: 287, top: 34, style: {text: '(a)', font: '12px ' + sans, fill: '#111'}},
    {type: 'text', left: 287, top: 145, style: {text: '(b)', font: '12px ' + sans, fill: '#111'}},
    {type: 'text', left: 287, top: 256, style: {text: '(c)', font: '12px ' + sans, fill: '#111'}}
  ],
  series: series
};

const chart = echarts.init(document.getElementById('chart'), null, {renderer: 'canvas'});
chart.setOption(option);
</script>
</body>
</html>
